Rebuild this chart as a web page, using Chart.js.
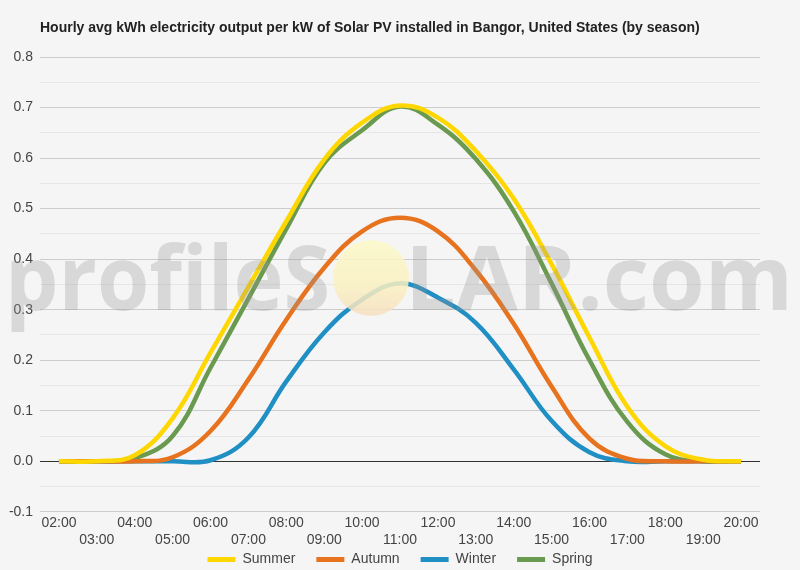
<!DOCTYPE html>
<html>
<head>
<meta charset="utf-8">
<script src="https://cdn.jsdelivr.net/npm/chart.js@4/dist/chart.umd.min.js"></script>
<style>
  html, body { margin: 0; padding: 0; background: #f5f5f5; }
  #wrap { width: 800px; height: 570px; position: relative; }
</style>
</head>
<body>
<div id="wrap"><canvas id="c" width="800" height="570"></canvas></div>
<script>
const hours = ['02:00','03:00','04:00','05:00','06:00','07:00','08:00','09:00','10:00','11:00','12:00','13:00','14:00','15:00','16:00','17:00','18:00','19:00','20:00'];
const summer = [0, 0, 0.012, 0.085, 0.215, 0.345, 0.475, 0.597, 0.67, 0.704, 0.68, 0.614, 0.52, 0.39, 0.245, 0.108, 0.03, 0.003, 0];
const autumn = [0, 0, 0, 0.008, 0.06, 0.162, 0.28, 0.383, 0.455, 0.482, 0.455, 0.378, 0.272, 0.148, 0.045, 0.005, 0, 0, 0];
const winter = [0, 0, 0, 0, 0.002, 0.047, 0.158, 0.255, 0.32, 0.352, 0.324, 0.274, 0.182, 0.08, 0.018, 0, 0, 0, 0];
const spring = [0, 0, 0.006, 0.05, 0.185, 0.322, 0.46, 0.59, 0.655, 0.702, 0.666, 0.598, 0.495, 0.352, 0.2, 0.078, 0.014, 0, 0];
const seriesNames = ['Summer', 'Autumn', 'Winter', 'Spring'];
const seriesColors = ['#ffd700', '#e8731f', '#1f8fc4', '#6a9a4f'];
const yTickLabels = ['-0.1','0.0','0.1','0.2','0.3','0.4','0.5','0.6','0.7','0.8'];
const titleText = 'Hourly avg kWh electricity output per kW of Solar PV installed in Bangor, United States (by season)';
const watermarkLeft = 'profileS';
const watermarkRight = 'LAR.com';

const FONT = "'Liberation Sans', Arial, sans-serif";
const seriesData = [summer, autumn, winter, spring];

const bgPlugin = {
  id: 'bg',
  beforeDraw(chart) {
    const ctx = chart.ctx;
    ctx.save();
    ctx.fillStyle = '#f5f5f5';
    ctx.fillRect(0, 0, chart.width, chart.height);
    ctx.restore();
  }
};

// pull the legend up right under the two-row x-axis labels
const legendShift = {
  id: 'legendShift',
  afterLayout(chart) {
    const lg = chart.legend;
    if (!lg) return;
    const h = lg.height;
    lg.top = chart.scales.x.bottom - 20;
    lg.bottom = lg.top + h;
  }
};

const watermarkPlugin = {
  id: 'watermark',
  afterDatasetsDraw(chart) {
    const ctx = chart.ctx;
    ctx.save();
    const cx = 371, cy = 278, r = 38;
    const g = ctx.createLinearGradient(0, cy - r, 0, cy + r);
    g.addColorStop(0, 'rgba(252,249,200,0.85)');
    g.addColorStop(0.6, 'rgba(250,240,192,0.85)');
    g.addColorStop(1, 'rgba(246,224,192,0.85)');
    ctx.fillStyle = g;
    ctx.beginPath();
    ctx.arc(cx, cy, r, 0, Math.PI * 2);
    ctx.fill();
    ctx.font = "bold 90px 'Open Sans', 'Liberation Sans', sans-serif";
    ctx.fillStyle = 'rgba(150,150,150,0.3)';
    ctx.textBaseline = 'alphabetic';
    const wl = ctx.measureText(watermarkLeft).width;
    const wr = ctx.measureText(watermarkRight).width;
    const ty = 310;
    ctx.save();
    ctx.translate(5, ty);
    ctx.scale(325 / wl, 1);
    ctx.fillText(watermarkLeft, 0, 0);
    ctx.restore();
    ctx.save();
    ctx.translate(405, ty);
    ctx.scale(388 / wr, 1);
    ctx.fillText(watermarkRight, 0, 0);
    ctx.restore();
    ctx.restore();
  }
};

new Chart(document.getElementById('c'), {
  type: 'line',
  data: {
    labels: hours,
    datasets: seriesNames.map((n, i) => ({
      label: n,
      data: seriesData[i],
      borderColor: seriesColors[i],
      backgroundColor: seriesColors[i],
      borderWidth: 4.5,
      pointRadius: 0,
      pointHoverRadius: 0,
      tension: 0.4,
      fill: false
    }))
  },
  options: {
    responsive: false,
    animation: false,
    devicePixelRatio: 1,
    layout: { padding: { left: 0, right: 40, top: 0, bottom: -26.4 } },
    plugins: {
      tooltip: { enabled: false },
      title: {
        display: true,
        text: titleText,
        align: 'start',
        fullSize: false,
        color: '#222',
        font: { family: FONT, size: 14, weight: 'bold' },
        padding: { top: 20, bottom: 20.2 }
      },
      legend: {
        position: 'bottom',
        fullSize: false,
        labels: {
          boxWidth: 28,
          boxHeight: 5,
          padding: 21,
          color: '#444',
          font: { family: FONT, size: 14 },
          generateLabels: (chart) => Chart.defaults.plugins.legend.labels.generateLabels(chart).map(l => ({ ...l, lineWidth: 0 }))
        }
      }
    },
    scales: {
      x: {
        type: 'category',
        offset: true,
        grid: { display: false, drawTicks: false },
        border: { display: false },
        ticks: {
          autoSkip: false,
          maxRotation: 0,
          minRotation: 0,
          padding: 3,
          color: '#444',
          font: { family: FONT, size: 14, lineHeight: 1.2 },
          callback: function(v, i) { const l = hours[i]; return i % 2 === 0 ? [l, ''] : ['', l]; }
        }
      },
      y: {
        min: -0.1,
        max: 0.8,
        afterFit(scale) { scale.width = 40; },
        border: { display: false },
        grid: {
          drawTicks: false,
          lineWidth: 1,
          color: (c) => {
            const v = c.tick ? c.tick.value : 0;
            if (Math.abs(v) < 1e-9) return '#333333';
            const m = Math.abs(v * 10 - Math.round(v * 10)) < 1e-6;
            return m ? '#cccccc' : '#e6e6e6';
          }
        },
        ticks: {
          stepSize: 0.05,
          padding: 7,
          color: '#444',
          font: { family: FONT, size: 14 },
          callback: function(v) {
            const k = Math.round(v * 10);
            if (Math.abs(v * 10 - k) > 1e-6) return '';
            return yTickLabels[k + 1];
          }
        }
      }
    }
  },
  plugins: [bgPlugin, legendShift, watermarkPlugin]
});
</script>
</body>
</html>
